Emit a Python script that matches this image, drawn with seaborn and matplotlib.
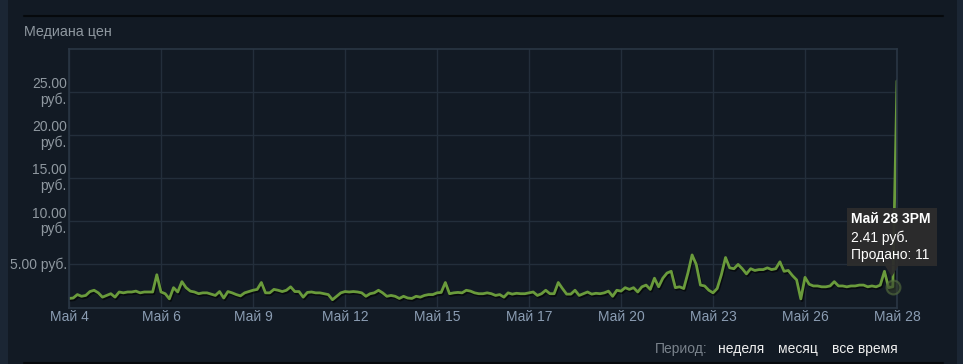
import matplotlib
matplotlib.use("Agg")
import matplotlib.pyplot as plt
import matplotlib.transforms as mtransforms
import matplotlib.patheffects as pe
from matplotlib.patches import Polygon, Rectangle
from matplotlib.lines import Line2D
import pandas as pd
import seaborn as sns

# ---------------- data ----------------
title = "Медиана цен"
x_tick_labels = ["Май 4", "Май 6", "Май 9", "Май 12", "Май 15",
                 "Май 17", "Май 20", "Май 23", "Май 26", "Май 28"]
y_ticks = [5, 10, 15, 20, 25]
y_tick_labels = ["5.00 руб.", "10.00\nруб.", "15.00\nруб.", "20.00\nруб.", "25.00\nруб."]

# hours since May 4 00:00, one sample every 3 hours
hours = list(range(0, 595, 3))
median_price = [
    1.05, 1.1, 1.5, 1.3, 1.4, 1.85, 2.0, 1.7,     # May 4
    1.2, 1.4, 1.6, 1.2, 1.8, 1.7, 1.8, 1.8,       # May 5
    1.9, 1.7, 1.8, 1.8, 1.8, 3.8, 1.8, 1.6,       # May 6
    1.0, 2.3, 1.8, 3.0, 2.3, 1.9, 1.8, 1.6,       # May 7
    1.7, 1.7, 1.55, 1.4, 1.85, 1.1, 1.85, 1.7,    # May 8
    1.5, 1.35, 1.7, 1.85, 2.0, 2.1, 2.9, 1.7,     # May 9
    1.7, 2.1, 2.0, 1.85, 2.0, 2.4, 1.85, 1.85,    # May 10
    1.2, 1.75, 1.8, 1.7, 1.7, 1.6, 1.5, 0.9,      # May 11
    1.3, 1.7, 1.85, 1.8, 1.85, 1.8, 1.7, 1.3,     # May 12
    1.6, 1.7, 2.0, 1.7, 1.3, 1.4, 1.3, 1.05,      # May 13
    1.3, 1.1, 1.05, 1.3, 1.2, 1.4, 1.5, 1.5,      # May 14
    1.7, 1.75, 2.9, 1.6, 1.7, 1.75, 1.7, 2.0,     # May 15
    1.9, 1.7, 1.6, 1.6, 1.7, 1.6, 1.4, 1.5,       # May 16
    1.2, 1.7, 1.55, 1.65, 1.6, 1.6, 1.7, 1.8,     # May 17
    1.4, 1.6, 2.0, 1.6, 1.6, 2.9, 2.2, 1.55,      # May 18
    1.55, 2.0, 1.4, 1.6, 1.8, 1.55, 1.65, 1.6,    # May 19
    1.7, 1.9, 1.3, 2.0, 1.9, 2.3, 2.1, 2.3,       # May 20
    1.8, 2.4, 2.6, 2.1, 3.4, 2.4, 3.4, 4.0,       # May 21
    4.2, 2.3, 2.4, 2.2, 4.0, 6.1, 5.0, 2.6,       # May 22
    2.5, 2.0, 1.7, 2.2, 3.8, 5.8, 4.6, 4.5,       # May 23
    5.0, 4.5, 3.9, 4.5, 4.3, 4.4, 4.4, 4.6,       # May 24
    4.4, 4.5, 5.3, 4.2, 4.3, 3.7, 3.2, 1.0,       # May 25
    3.5, 2.7, 2.5, 2.5, 2.4, 2.4, 2.5, 3.0,       # May 26
    2.5, 2.5, 2.4, 2.5, 2.5, 2.6, 2.6, 2.4,       # May 27
    2.5, 2.4, 2.6, 4.2, 2.3, 2.41, 26.3,          # May 28
]

tooltip_hour = 591
tooltip_lines = ["Май 28 3PM", "2.41 руб.", "Продано: 11"]
period_label = "Период:"
period_options = ["неделя", "месяц", "все время"]

# ---------------- style ----------------
BG = "#121a24"
GRID = "#232e3b"
SPINE = "#2a3644"
LINE = "#6a9b3c"
LABEL = "#8f98a0"
XLABEL = "#8b9db3"
FS = 10

sns.set_theme(style="dark")
plt.rcParams["font.family"] = ["Liberation Sans", "DejaVu Sans"]

W, H = 963, 364
fig = plt.figure(figsize=(W / 100, H / 100), dpi=100, facecolor=BG)

# page decorations
fig.add_artist(Rectangle((0, 0), 8 / W, 1, transform=fig.transFigure,
                         color="#1b2634", lw=0))
fig.add_artist(Rectangle((957 / W, 0), 6 / W, 1, transform=fig.transFigure,
                         color="#1b2634", lw=0))
for yy in (15.5, 362.5):
    fig.add_artist(Line2D([24 / W, 943 / W], [1 - yy / H] * 2,
                          transform=fig.transFigure, color="#06090c", lw=1.5))

ax = fig.add_axes([69 / W, (H - 307.5) / H, 828 / W, 258.5 / H])
ax.set_facecolor(BG)

df = pd.DataFrame({"hour": hours, "price": median_price})
sns.lineplot(data=df, x="hour", y="price", ax=ax, color=LINE, lw=2.0,
             path_effects=[pe.SimpleLineShadow(offset=(0.8, -1.2),
                                               shadow_color="black", alpha=0.6),
                           pe.Normal()])

ax.set_xlim(hours[0], hours[-1])
ax.set_ylim(0, 30)
n = len(x_tick_labels)
span = hours[-1] - hours[0]
ax.set_xticks([hours[0] + span * i / (n - 1) for i in range(n)])
ax.set_xticklabels(x_tick_labels)
ax.set_yticks(y_ticks)
ax.set_yticklabels(y_tick_labels, va="center", ha="right", multialignment="right",
                   linespacing=1.1)
ax.set_xlabel("")
ax.set_ylabel("")
ax.grid(True, color=GRID, lw=1)
ax.tick_params(axis="x", length=0, pad=2, labelsize=FS, labelcolor=XLABEL)
ax.tick_params(axis="y", length=0, pad=1.5, labelsize=FS, labelcolor=LABEL)
for s in ax.spines.values():
    s.set_visible(True)
    s.set_color(SPINE)
    s.set_linewidth(1.2)

fig.text(24 / W, 1 - 32 / H, title, color=LABEL, fontsize=10.25,
         ha="left", va="center")

# ---------------- tooltip ----------------
tip_val = median_price[hours.index(tooltip_hour)]
ax.scatter([tooltip_hour], [tip_val], s=100, facecolor="#34402d",
           edgecolor="#56703f", lw=1.5, alpha=0.6, zorder=4, clip_on=False)
anchor = mtransforms.ScaledTranslation(tooltip_hour, tip_val, ax.transData)
pix = mtransforms.Affine2D() + anchor
box = Rectangle((-46, 21), 90, 58, transform=pix, facecolor="#2d2d2d",
                edgecolor="none", alpha=0.95, zorder=6, clip_on=False)
ax.add_artist(box)
tri = Polygon([(-8, 21.5), (6, 21.5), (-1, 10)], closed=True, transform=pix,
              facecolor="#2d2d2d", edgecolor="none", alpha=0.95, zorder=6,
              clip_on=False)
ax.add_artist(tri)
for i, (txt, dy) in enumerate(zip(tooltip_lines, [68, 49, 32])):
    ax.text(-42, dy, txt, transform=pix, color="white", fontsize=10,
            fontweight="bold" if i == 0 else "normal",
            ha="left", va="center", zorder=7, clip_on=False)

# ---------------- period selector ----------------
fig.text(708 / W, 1 - 349 / H, period_label, color="#7a838c", fontsize=FS,
         ha="right", va="center")
for txt, x0 in zip(period_options, [718, 778, 832]):
    fig.text(x0 / W, 1 - 349 / H, txt, color="#f0f0f0", fontsize=FS,
             ha="left", va="center")

fig.savefig("out.png", dpi=100, facecolor=BG)
